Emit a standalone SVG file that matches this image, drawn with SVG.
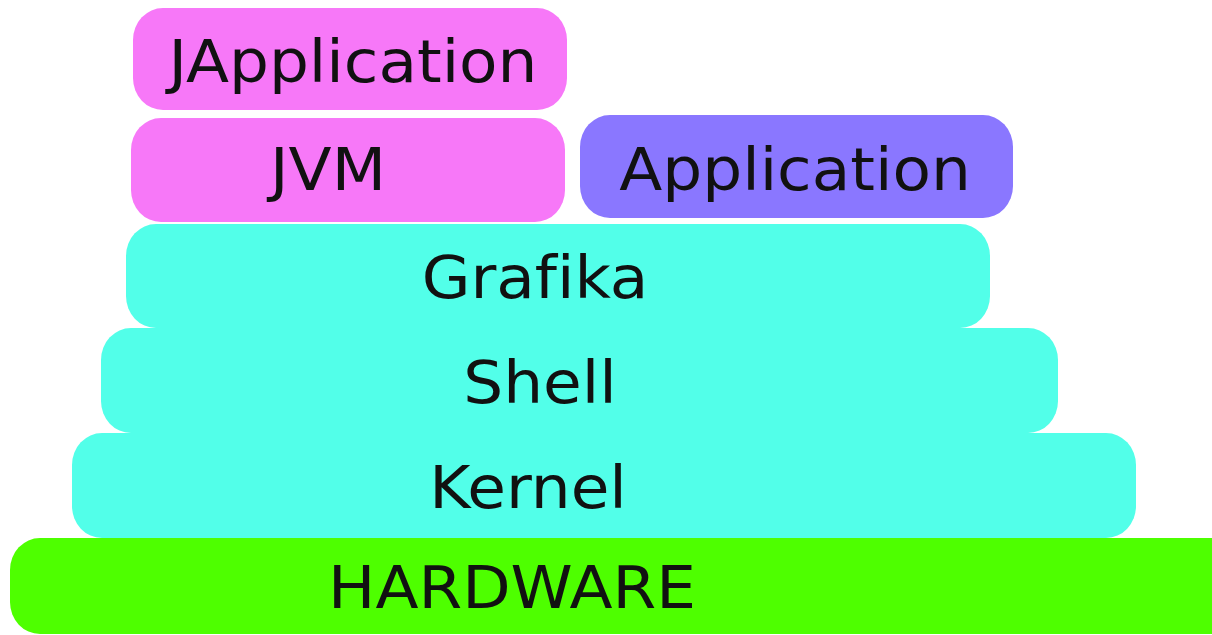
<svg xmlns="http://www.w3.org/2000/svg" width="1212" height="635" viewBox="0 0 1212 635">
<style>
.lbl{font-family:"DejaVu Sans",sans-serif;font-size:58px;fill:#111;text-anchor:middle;font-variant-ligatures:none}
.pink{fill:#F778F8}.purple{fill:#8A77FF}.cyan{fill:#52FFE9}.green{fill:#4EFF00}
</style>
<rect width="1212" height="635" fill="#fff"/>
<g id="hardware"><rect class="green" x="10" y="538" width="1230" height="96" rx="30" ry="32"/><text class="lbl" transform="translate(512 608) scale(1.085 1)">HARDWARE</text></g>
<g id="kernel"><rect class="cyan" x="72" y="433" width="1064" height="105" rx="30" ry="32"/><text class="lbl" transform="translate(528 508) scale(1.085 1)">Kernel</text></g>
<g id="shell"><rect class="cyan" x="101" y="328" width="957" height="105" rx="30" ry="32"/><text class="lbl" transform="translate(540 403) scale(1.085 1)">Shell</text></g>
<g id="grafika"><rect class="cyan" x="126" y="224" width="864" height="104" rx="30" ry="32"/><text class="lbl" transform="translate(535 298) scale(1.085 1)">Grafika</text></g>
<g id="jvm"><rect class="pink" x="131" y="118" width="434" height="104" rx="30" ry="32"/><text class="lbl" transform="translate(328 190) scale(1.085 1)">JVM</text></g>
<g id="application"><rect class="purple" x="580" y="115" width="433" height="103" rx="30" ry="32"/><text class="lbl" transform="translate(795 190) scale(1.085 1)">Application</text></g>
<g id="japplication"><rect class="pink" x="133" y="8" width="434" height="102" rx="30" ry="32"/><text class="lbl" transform="translate(353 82) scale(1.085 1)">JApplication</text></g>
<g id="connectors"/>
</svg>
